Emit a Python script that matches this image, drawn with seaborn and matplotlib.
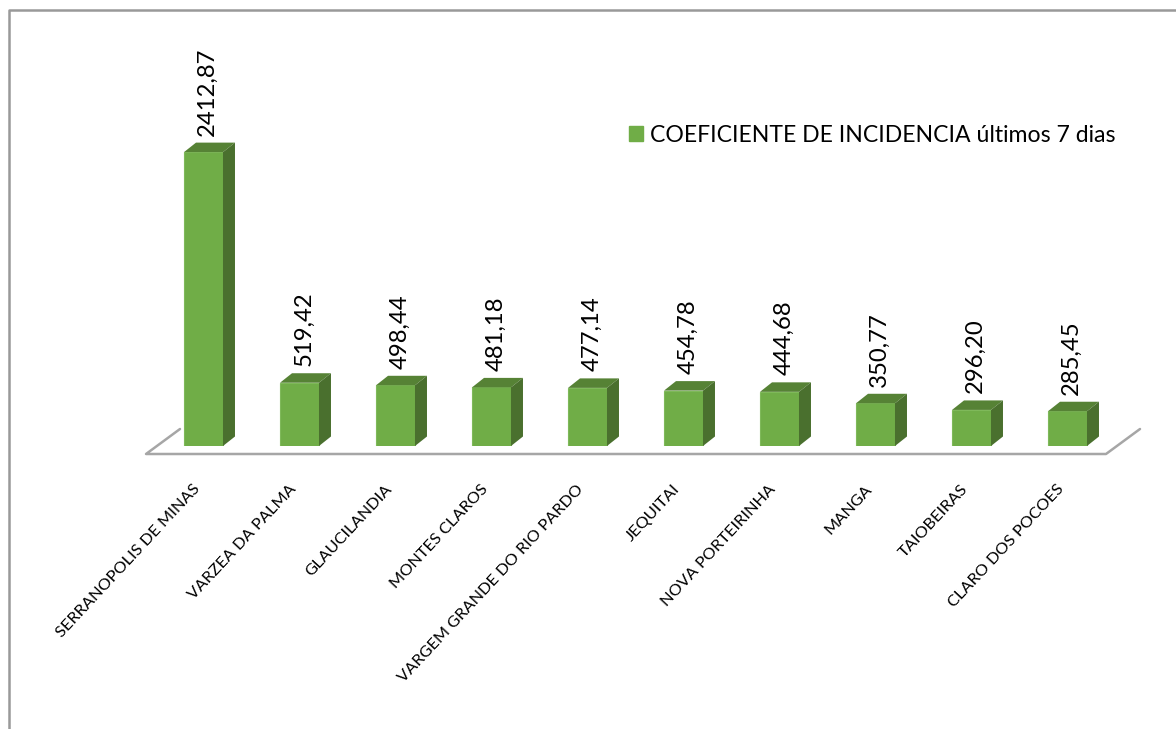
import matplotlib
matplotlib.use("Agg")
import matplotlib.pyplot as plt
import pandas as pd
import seaborn as sns
from matplotlib.lines import Line2D
from matplotlib.patches import Patch, Polygon
from matplotlib.transforms import ScaledTranslation

# Values
municipios = ['SERRANOPOLIS DE MINAS', 'VARZEA DA PALMA', 'GLAUCILANDIA', 'MONTES CLAROS',
              'VARGEM GRANDE DO RIO PARDO', 'JEQUITAI', 'NOVA PORTEIRINHA', 'MANGA',
              'TAIOBEIRAS', 'CLARO DOS POCOES']
incidencia = [2412.87, 519.42, 498.44, 481.18, 477.14, 454.78, 444.68, 350.77, 296.20, 285.45]
serie = 'COEFICIENTE DE INCIDENCIA últimos 7 dias'

W, H = 1176, 729
FRONT = '#70ad47'
TOP = '#568235'
SIDE = '#4a702e'
GREY = '#a6a6a6'

sns.set_theme(style="white")
plt.rcParams['font.family'] = ['Lato', 'DejaVu Sans']

df = pd.DataFrame({'Municipio': municipios, 'Incidencia': incidencia})

fig = plt.figure(figsize=(W / 100, H / 100), dpi=100)

# axes box in pixels: y=446 is zero, 0.1218 px per unit, 96 px per category
left, right, top, base = 96, 1152, 20, 446
ax = fig.add_axes([left / W, 1 - base / H, (right - left) / W, (base - top) / H])
sns.barplot(data=df, x='Municipio', y='Incidencia', color=FRONT, saturation=1,
            width=0.406, ax=ax, edgecolor='#7fb95a', linewidth=0.8)

px_x = 96.0
px_y = 0.1218
ax.set_xlim((left - 203.5) / px_x, (right - 203.5) / px_x)
ax.set_ylim(0, (base - top) / px_y)

# depth of the fake 3D look
dx = 12 / px_x
dy = 9.5 / px_y

for bar in ax.patches:
    x0 = bar.get_x()
    x1 = x0 + bar.get_width()
    h = bar.get_height()
    ax.add_patch(Polygon([(x0, h), (x1, h), (x1 + dx, h + dy), (x0 + dx, h + dy)],
                         facecolor=TOP, edgecolor='none', clip_on=False))
    ax.add_patch(Polygon([(x1, 0), (x1 + dx, dy), (x1 + dx, h + dy), (x1, h)],
                         facecolor=SIDE, edgecolor='none', clip_on=False))

# data labels, rotated like the original
for i, v in enumerate(incidencia):
    ax.annotate(f'{v:.2f}'.replace('.', ','), (i + dx * 0.35, v + dy), xytext=(0, 7),
                textcoords='offset pixels', rotation=90, ha='center', va='bottom',
                fontsize=17.2, color='black')

ax.set_xticks(range(len(municipios)))
ax.set_xticklabels(municipios, rotation=47, ha='right', rotation_mode='anchor',
                   fontsize=11.8, color='black')
ax.tick_params(axis='x', length=0, pad=26)
shift = ScaledTranslation(-11 / 100, 0, fig.dpi_scale_trans)
for label in ax.get_xticklabels():
    label.set_transform(label.get_transform() + shift)
ax.set_yticks([])
ax.set_xlabel('')
ax.set_ylabel('')
sns.despine(ax=ax, left=True, bottom=True)
ax.patch.set_alpha(0)

# floor of the 3D chart
floor_x = [180, 146, 1106, 1140]
floor_y = [429, 454, 454, 429]
fig.add_artist(Line2D([x / W for x in floor_x], [1 - y / H for y in floor_y],
                      color=GREY, lw=1.8))

# chart area border, only top and left are in the crop
fig.add_artist(Line2D([9 / W, 9 / W, 1], [0, 1 - 9.5 / H, 1 - 9.5 / H],
                      color='#999999', lw=1.8))

ax.legend(handles=[Patch(color=FRONT, label=serie)], loc='center left',
          bbox_to_anchor=(629 / W, 1 - 135.5 / H), bbox_transform=fig.transFigure,
          frameon=False, fontsize=16.6, labelcolor='black', handlelength=0.62,
          handleheight=0.62, handletextpad=0.3, borderpad=0, borderaxespad=0)

fig.savefig('out.png', dpi=100, facecolor='white')
plt.close(fig)
